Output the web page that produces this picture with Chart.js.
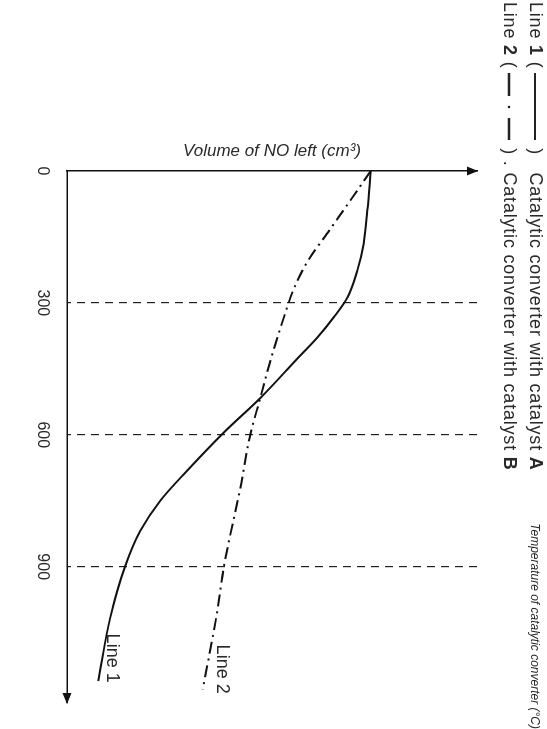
<!DOCTYPE html>
<html>
<head>
<meta charset="utf-8">
<script src="https://cdn.jsdelivr.net/npm/chart.js@4.4.0/dist/chart.umd.min.js"></script>
<style>
  html, body { margin: 0; padding: 0; background: #fff; width: 547px; height: 729px; overflow: hidden; }
  body { font-family: "Liberation Sans", Arial, sans-serif; }
  /* o gráfico é desenhado deitado e girado 90° no sentido horário */
  #quadro { position: absolute; left: 0; top: 0; width: 729px; height: 547px; transform-origin: 0 0; transform: translate(547px, 0) rotate(90deg); }
  #quadro canvas { position: absolute; left: 0; top: 0; }
  .legenda { position: absolute; left: 2px; font-size: 18px; line-height: 20px; letter-spacing: 0.8px; color: #2a2a2a; white-space: nowrap; }
  .legenda svg { vertical-align: middle; margin-left: 2px; }
  .rotulo { position: absolute; font-size: 18px; color: #2a2a2a; white-space: nowrap; transform: translate(-50%, -50%); }
</style>
</head>
<body>
<div id="quadro">
  <canvas id="grafico" width="729" height="547"></canvas>
  <div class="legenda" style="top:1px">Line <b>1</b> (<svg width="72" height="10"><line x1="3" y1="5" x2="70" y2="5" stroke="#222" stroke-width="2"/></svg> )&nbsp;&nbsp; Catalytic converter with catalyst <b>A</b></div>
  <div class="legenda" style="top:27px">Line <b>2</b> (<svg width="72" height="10"><line x1="3" y1="5" x2="26" y2="5" stroke="#222" stroke-width="2.5"/><circle cx="37" cy="5" r="1.3" fill="#222"/><line x1="48" y1="5" x2="70" y2="5" stroke="#222" stroke-width="2.5"/></svg> ) . Catalytic converter with catalyst <b>B</b></div>
  <div class="rotulo" id="rotulo1">Line 1</div>
  <div class="rotulo" id="rotulo2">Line 2</div>
</div>
<script>
// valores (temperatura em °C, volume em unidades relativas)
const temperaturasLinha1 = [0, 90, 165, 226, 288, 333, 379, 427, 516, 595, 682, 750, 819, 900, 1017, 1160];
const volumesLinha1 = [100, 98.9, 97.7, 95.6, 92.3, 87.8, 82.4, 75.8, 63.7, 51.6, 39.5, 30.7, 24.1, 19.1, 14.2, 10.3];
const temperaturasLinha2 = [0, 55, 131, 207, 268, 333, 431, 515, 598, 720, 902, 1001, 1179];
const volumesLinha2 = [100, 94.5, 86.8, 79.1, 74.7, 71.4, 67, 63.7, 60.4, 57.1, 51.6, 49.5, 44.7];
const ticksTemperatura = [0, 300, 600, 900];
const temperaturaMax = 1210;
const volumeMax = 135;

Chart.defaults.font.family = '"Liberation Sans", Arial, sans-serif';

function pontos(xs, ys) {
  return xs.map((x, i) => ({ x: x, y: ys[i] }));
}

// desenha as setas nas pontas dos eixos
const setas = {
  id: "setas",
  afterDraw(chart) {
    const ctx = chart.ctx;
    const a = chart.chartArea;
    ctx.save();
    ctx.fillStyle = "#111";
    ctx.beginPath();
    ctx.moveTo(a.right + 1, a.bottom);
    ctx.lineTo(a.right - 10, a.bottom - 4.5);
    ctx.lineTo(a.right - 10, a.bottom + 4.5);
    ctx.closePath();
    ctx.fill();
    ctx.beginPath();
    ctx.moveTo(a.left, a.top - 1);
    ctx.lineTo(a.left - 4.5, a.top + 10);
    ctx.lineTo(a.left + 4.5, a.top + 10);
    ctx.closePath();
    ctx.fill();
    ctx.restore();
  },
};

const grafico = new Chart(document.getElementById("grafico"), {
  type: "line",
  data: {
    datasets: [
      {
        label: "Line 1",
        data: pontos(temperaturasLinha1, volumesLinha1),
        borderColor: "#111",
        borderWidth: 2,
        pointRadius: 0,
        cubicInterpolationMode: "monotone",
      },
      {
        label: "Line 2",
        data: pontos(temperaturasLinha2, volumesLinha2),
        borderColor: "#111",
        borderWidth: 2,
        borderDash: [12, 5, 2, 5],
        pointRadius: 0,
        cubicInterpolationMode: "monotone",
      },
    ],
  },
  options: {
    responsive: false,
    animation: false,
    events: [],
    layout: { padding: 0 },
    plugins: {
      legend: { display: false },
      tooltip: { enabled: false },
      title: {
        display: true,
        text: "Temperature of catalytic converter (°C)",
        align: "end",
        color: "#2a2a2a",
        font: { size: 12, style: "italic", weight: "normal" },
        padding: { top: 5, bottom: 50.6 },
      },
    },
    scales: {
      x: {
        type: "linear",
        position: "bottom",
        min: 0,
        max: temperaturaMax,
        afterBuildTicks: (s) => {
          s.ticks = ticksTemperatura.map((v) => ({ value: v }));
        },
        afterFit: (s) => {
          s.height = 67;
        },
        ticks: { color: "#2a2a2a", font: { size: 16 }, padding: 15 },
        grid: {
          drawTicks: false,
          color: (c) => (c.tick && c.tick.value > 0 ? "#222" : "rgba(0,0,0,0)"),
          lineWidth: 1.2,
        },
        border: { display: true, color: "#111", width: 1.5, dash: [8, 6] },
      },
      y: {
        type: "linear",
        position: "left",
        min: 0,
        max: volumeMax,
        ticks: { display: false },
        grid: { display: false, drawTicks: false },
        border: { display: true, color: "#111", width: 1.5 },
        title: {
          display: true,
          text: "Volume of NO left (cm³)",
          color: "#2a2a2a",
          font: { size: 17, style: "italic" },
          padding: { top: 141, bottom: 0 },
        },
        afterFit: (s) => {
          s.width = 171;
        },
      },
      y2: {
        type: "linear",
        position: "right",
        ticks: { display: false },
        grid: { display: false, drawTicks: false },
        border: { display: false },
        afterFit: (s) => {
          s.width = 26;
        },
      },
    },
  },
  plugins: [setas],
});

// rótulos "Line 1" e "Line 2" perto do fim de cada curva
function posicionarRotulo(id, t, v) {
  const el = document.getElementById(id);
  el.style.left = grafico.scales.x.getPixelForValue(t) + "px";
  el.style.top = grafico.scales.y.getPixelForValue(v) + "px";
}
posicionarRotulo("rotulo1", 1108, 15.3);
posicionarRotulo("rotulo2", 1133, 51.5);
</script>
</body>
</html>
